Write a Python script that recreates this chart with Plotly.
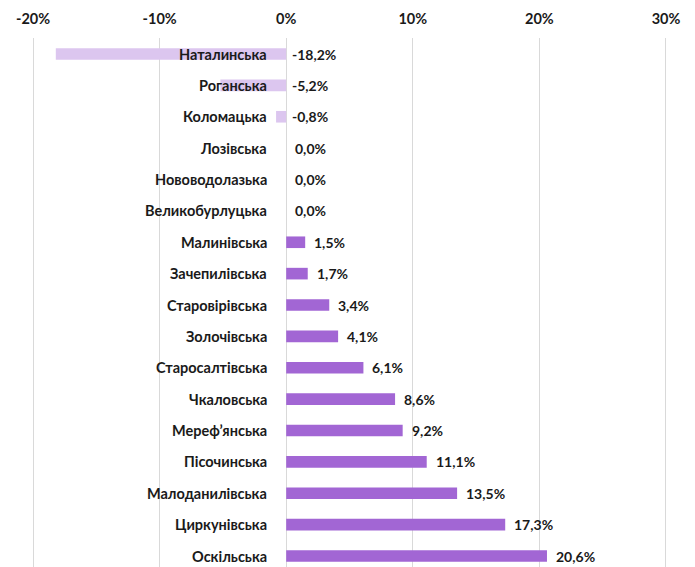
import plotly.graph_objects as go

categories = ["Наталинська", "Роганська", "Коломацька", "Лозівська", "Нововодолазька",
              "Великобурлуцька", "Малинівська", "Зачепилівська", "Старовірівська",
              "Золочівська", "Старосалтівська", "Чкаловська", "Мереф’янська",
              "Пісочинська", "Малоданилівська", "Циркунівська", "Оскільська"]
values = [-18.2, -5.2, -0.8, 0.0, 0.0, 0.0, 1.5, 1.7, 3.4, 4.1, 6.1, 8.6, 9.2,
          11.1, 13.5, 17.3, 20.6]
tick_vals = [-20, -10, 0, 10, 20, 30]
tick_text = ["-20%", "-10%", "0%", "10%", "20%", "30%"]

POS = "#A266D4"
NEG = "#DCC6EF"
FONT = "Lato"
TXT = "#1a1a1a"

ypos = list(range(len(categories)))
colors = [NEG if v < 0 else POS for v in values]

fig = go.Figure()
fig.add_trace(go.Bar(
    x=values, y=ypos, orientation="h", width=0.37,
    marker=dict(color=colors, line=dict(width=0)),
    hoverinfo="skip",
))

annotations = []
for i, (c, v) in enumerate(zip(categories, values)):
    annotations.append(dict(x=0, y=i, xref="x", yref="y", text=c,
                            showarrow=False, xanchor="right", xshift=-17,
                            font=dict(family=FONT, size=14.5, color=TXT, weight="bold")))
    lab = f"{v:.1f}".replace(".", ",") + "%"
    annotations.append(dict(x=max(v, 0), y=i, xref="x", yref="y", text=lab,
                            showarrow=False, xanchor="left", xshift=4 if v < 0 else 7,
                            font=dict(family=FONT, size=14, color=TXT, weight="bold")))

# page is offset by the 8px body margin
fig.update_layout(
    width=695, height=567,
    margin=dict(l=23, r=35, t=30, b=8),
    plot_bgcolor="white", paper_bgcolor="white",
    showlegend=False,
    annotations=annotations,
    xaxis=dict(side="top", range=[-20.16, 30.16], tickvals=tick_vals, ticktext=tick_text,
               showgrid=True, gridcolor="#D9D9D9", gridwidth=1,
               zeroline=True, zerolinecolor="#D9D9D9", zerolinewidth=1,
               showline=False, ticks="", ticklabelstandoff=10, automargin=False,
               tickfont=dict(family=FONT, size=14.5, color=TXT, weight="bold")),
    yaxis=dict(range=[16.35, -0.51], showticklabels=False, showgrid=False,
               zeroline=False, showline=False, automargin=False),
)

fig.write_html("out.html")
